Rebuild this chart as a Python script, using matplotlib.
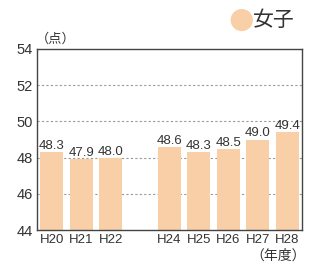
import matplotlib.pyplot as plt

plt.rcParams['font.family'] = ['Liberation Sans', 'Noto Sans CJK JP']

# データ
years = ['H20', 'H21', 'H22', 'H24', 'H25', 'H26', 'H27', 'H28']
pos = [0, 1, 2, 4, 5, 6, 7, 8]
scores = [48.3, 47.9, 48.0, 48.6, 48.3, 48.5, 49.0, 49.4]
yticks = [44, 46, 48, 50, 52, 54]

bar_color = '#F8CFA6'
frame_color = '#444444'

fig = plt.figure(figsize=(3.10, 2.69), dpi=100)
ax = fig.add_axes([37 / 310, 1 - 230 / 269, 265 / 310, 181 / 269])

ax.bar(pos, scores, width=0.78, color=bar_color, zorder=2)
for x, v in zip(pos, scores):
    ax.text(x, v, f'{v:.1f}', ha='center', va='bottom', fontsize=9.5,
            color='#333333', zorder=3)

ax.set_xlim(-0.5, 8.5)
ax.set_ylim(44, 54)
ax.set_yticks(yticks)
ax.set_xticks(pos)
ax.set_xticklabels(years)
ax.tick_params(axis='both', length=0, labelsize=10.5, colors='#333333', pad=2)
ax.tick_params(axis='x', labelsize=9.5, pad=3)
ax.tick_params(axis='y', pad=3)

for y in yticks[1:-1]:
    ax.axhline(y, color='#999999', lw=0.8, ls=(0, (2, 2)), zorder=1)

for s in ax.spines.values():
    s.set_color(frame_color)
    s.set_linewidth(1.0)

# 単位ラベル
fig.text(36 / 310, 1 - 39 / 269, '（点）', fontsize=9.5, color='#333333',
         ha='left', va='center')
fig.text(306 / 310, 1 - 256 / 269, '（年度）', fontsize=10, color='#333333',
         ha='right', va='center')

# 凡例
fig.text(241 / 310, 1 - 20 / 269, '●', fontsize=21, color=bar_color,
         ha='center', va='center', family=['DejaVu Sans'])
fig.text(253 / 310, 1 - 20 / 269, '女子', fontsize=15, color='#333333',
         ha='left', va='center')

fig.savefig('out.png', dpi=100)
